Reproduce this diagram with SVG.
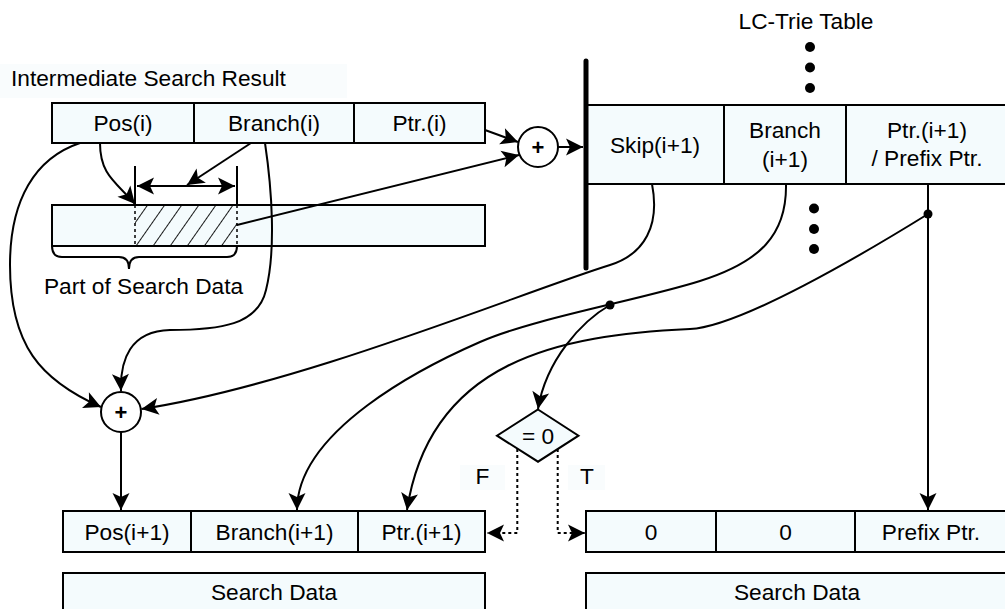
<svg xmlns="http://www.w3.org/2000/svg" width="1005" height="609" viewBox="0 0 1005 609">
  <style>
    .t { font-family: "Liberation Sans", Arial, sans-serif; font-size: 22.7px; text-anchor: middle; fill: #000; }
    .ts { text-anchor: start; }
    .plus { font-family: "Liberation Sans", Arial, sans-serif; font-size: 22px; font-weight: bold; text-anchor: middle; }
    .cell { fill: #f4fbfd; stroke: #000; stroke-width: 2; }
    .bg { fill: #f9fcfd; }
    .ln { fill: none; stroke: #000; stroke-width: 2; }
    .arr { fill: none; stroke: #000; stroke-width: 2; marker-end: url(#ah); }
    .dot-ln { fill: none; stroke: #000; stroke-width: 2; stroke-dasharray: 3 3; marker-end: url(#ah); }
    .dash { fill: none; stroke: #000; stroke-width: 1.5; stroke-dasharray: 3 3; }
    .adder { fill: #fff; stroke: #000; stroke-width: 2; }
  </style>
  <defs>
    <marker id="ah" viewBox="-18 -10 20 20" refX="0" refY="0" markerWidth="20" markerHeight="20" markerUnits="userSpaceOnUse" orient="auto-start-reverse" overflow="visible">
      <path d="M0,0 L-17,-8.5 L-13,0 L-17,8.5 Z" fill="#000"/>
    </marker>
    <pattern id="hatch" patternUnits="userSpaceOnUse" width="14" height="14" patternTransform="rotate(35)">
      <rect width="14" height="14" fill="#f4fbfd"/>
      <line x1="0" y1="0" x2="0" y2="14" stroke="#000" stroke-width="1.8"/>
    </pattern>
  </defs>

  <!-- current search state -->
  <g id="intermediate-result">
    <rect class="bg" x="0" y="64" width="347" height="34"/>
    <text class="t ts" x="11" y="86">Intermediate Search Result</text>
    <rect class="cell" x="52" y="103" width="142" height="40"/>
    <rect class="cell" x="194" y="103" width="160" height="40"/>
    <rect class="cell" x="354" y="103" width="131" height="40"/>
    <text class="t" x="123" y="130.5">Pos(i)</text>
    <text class="t" x="274" y="130.5">Branch(i)</text>
    <text class="t" x="419.5" y="130.5">Ptr.(i)</text>
  </g>

  <!-- slice of the key being searched -->
  <g id="search-data-part">
    <rect class="cell" x="52" y="205" width="433" height="41"/>
    <rect x="135" y="206" width="102" height="39" fill="url(#hatch)"/>
    <line class="dash" x1="135" y1="205" x2="135" y2="246"/>
    <line class="dash" x1="237" y1="205" x2="237" y2="246"/>
    <line class="ln" x1="135" y1="166" x2="135" y2="205"/>
    <line class="ln" x1="237" y1="166" x2="237" y2="205"/>
    <path class="ln" d="M137,186 H235" marker-start="url(#ah)" marker-end="url(#ah)"/>
    <path class="ln" stroke-width="1.6" d="M52,246 Q52,257 62,257 H119 Q129,257 129,269 Q129,257 139,257 H227 Q237,257 237,246"/>
    <text class="t" x="143.5" y="294">Part of Search Data</text>
  </g>

  <!-- index adder -->
  <g id="adder-top">
    <circle class="adder" cx="538" cy="147" r="20"/>
    <text class="plus" x="538" y="154.5">+</text>
  </g>

  <!-- trie node table -->
  <g id="lc-trie-table">
    <text class="t" x="806" y="29">LC-Trie Table</text>
    <circle cx="810" cy="47" r="5"/>
    <circle cx="810" cy="67.5" r="5"/>
    <circle cx="810" cy="88" r="5"/>
    <rect class="cell" x="586" y="105" width="138" height="79"/>
    <rect class="cell" x="724" y="105" width="122" height="79"/>
    <rect class="cell" x="846" y="105" width="164" height="79"/>
    <line x1="586" y1="61" x2="586" y2="268" stroke="#000" stroke-width="5" stroke-linecap="round"/>
    <text class="t" x="655" y="152.5">Skip(i+1)</text>
    <text class="t" x="785" y="137.5">Branch</text>
    <text class="t" x="785" y="166.5">(i+1)</text>
    <text class="t" x="927" y="137.5">Ptr.(i+1)</text>
    <text class="t" x="927" y="166">/ Prefix Ptr.</text>
    <circle cx="814" cy="208.5" r="5"/>
    <circle cx="814" cy="229" r="5"/>
    <circle cx="814" cy="249" r="5"/>
  </g>

  <!-- position adder -->
  <g id="adder-bottom">
    <circle class="adder" cx="121" cy="412" r="20"/>
    <text class="plus" x="121" y="419.5">+</text>
  </g>

  <!-- leaf test on the branch width -->
  <g id="zero-test">
    <polygon class="cell" points="538,409.5 578.5,435.7 538,461.7 497,435.7"/>
    <text class="t" x="538" y="443.5">= 0</text>
    <rect class="bg" x="460" y="465" width="45" height="25"/>
    <text class="t" x="482.5" y="484.3">F</text>
    <rect class="bg" x="568" y="465" width="37" height="25"/>
    <text class="t" x="587" y="484.3">T</text>
  </g>

  <!-- next search state (internal node) -->
  <g id="next-result">
    <rect class="cell" x="63" y="511" width="128" height="41"/>
    <rect class="cell" x="191" y="511" width="167" height="41"/>
    <rect class="cell" x="358" y="511" width="127" height="41"/>
    <text class="t" x="127" y="539.5">Pos(i+1)</text>
    <text class="t" x="274.5" y="539.5">Branch(i+1)</text>
    <text class="t" x="421.5" y="539.5">Ptr.(i+1)</text>
  </g>
  <g id="search-data-left">
    <rect class="cell" x="63" y="573" width="422" height="50"/>
    <text class="t" x="274" y="600">Search Data</text>
  </g>

  <!-- result at a leaf -->
  <g id="leaf-result">
    <rect class="cell" x="586" y="511" width="130" height="41"/>
    <rect class="cell" x="716" y="511" width="139" height="41"/>
    <rect class="cell" x="855" y="511" width="155" height="41"/>
    <text class="t" x="651" y="539.5">0</text>
    <text class="t" x="785.5" y="539.5">0</text>
    <text class="t" x="931" y="539.5">Prefix Ptr.</text>
  </g>
  <g id="search-data-right">
    <rect class="cell" x="586" y="573" width="424" height="50"/>
    <text class="t" x="797" y="600">Search Data</text>
  </g>

  <g id="connectors">
    <!-- Pos(i) marks the start of the slice, Branch(i) its width -->
    <path class="arr" d="M100,143 C100,175 116,182 135,204"/>
    <path class="arr" d="M251,143 L187,185"/>
    <!-- Ptr.(i) + slice value -> table row -->
    <path class="arr" d="M485,130 L518,142"/>
    <path class="arr" d="M237,225 L519,155"/>
    <path class="arr" d="M558,147 L583,147"/>
    <!-- Pos(i+1) = Pos(i) + Branch(i) + Skip(i+1) -->
    <path class="arr" d="M80,143 C35,158 10,200 10,265 C10,345 40,380 101,407"/>
    <path class="arr" d="M265,143 C272,190 276,250 266,290 C258,325 220,330 170,330 C130,331 120,360 121,391"/>
    <path class="arr" d="M652,184 C660,225 645,254 610,265 C520,293 300,385 141.5,409"/>
    <path class="arr" d="M121,432 L121,510"/>
    <!-- Branch(i+1) -->
    <path class="arr" d="M786,184 C787,235 760,262 700,281 C640,300 535,318 480,342 C425,366 297,430 297,510"/>
    <circle cx="610" cy="305" r="4.5"/>
    <path class="arr" d="M610,305 C582,321 546,360 538,409"/>
    <!-- Ptr.(i+1) / Prefix Ptr. -->
    <path class="ln" d="M928,184 L928,214"/>
    <path class="arr" d="M928,214 L928,510"/>
    <circle cx="928" cy="214" r="4.5"/>
    <path class="arr" d="M928,214 C865,253 740,327 690,329 C560,335 430,360 407,510"/>
    <!-- branch on the zero test -->
    <path class="dot-ln" d="M517.3,449 V533 H487"/>
    <path class="dot-ln" d="M557.7,449 V533 H585"/>
  </g>
</svg>
